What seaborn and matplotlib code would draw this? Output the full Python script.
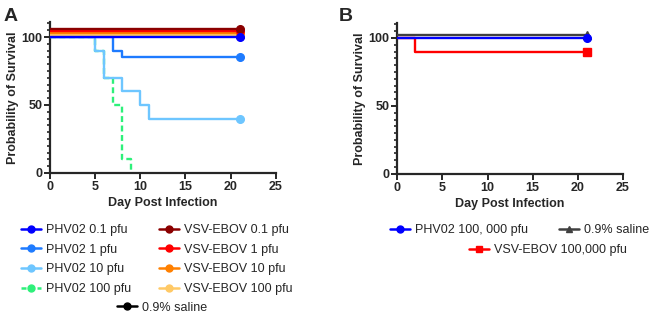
import matplotlib
matplotlib.use("Agg")
import matplotlib.pyplot as plt
import matplotlib.transforms as mtransforms
from matplotlib.lines import Line2D
import seaborn as sns

# panel A data (day, % survival)
phv_01_days = [0, 21]
phv_01_surv = [100, 100]
phv_1_days = [0, 7, 8, 21]
phv_1_surv = [100, 90, 85, 85]
phv_10_days = [0, 5, 6, 8, 10, 11, 21]
phv_10_surv = [100, 90, 70, 60, 50, 40, 40]
phv_100_days = [0, 5, 6, 7, 8, 9]
phv_100_surv = [100, 90, 70, 50, 10, 0]
vsv_days = [0, 21]
vsv_01_surv = [100, 100]
vsv_1_surv = [100, 100]
vsv_10_surv = [100, 100]
vsv_100_surv = [100, 100]
saline_a_days = [0, 21]
saline_a_surv = [100, 100]

# panel B data
phv_hi_days = [0, 21]
phv_hi_surv = [100, 100]
vsv_hi_days = [0, 2, 21]
vsv_hi_surv = [100, 90, 90]
saline_b_days = [0, 21]
saline_b_surv = [100, 100]

sns.set_style("ticks")
plt.rcParams['font.family'] = ['Liberation Sans', 'DejaVu Sans']

fig = plt.figure(figsize=(6.49, 3.15), dpi=100)
axA = fig.add_axes([0.077, 0.451, 0.348, 0.479])
axB = fig.add_axes([0.612, 0.448, 0.348, 0.479])


def curve(ax, days, surv, color, marker, lift=0, ls="-", end=True, z=2):
    # lift shifts the line up a few points so stacked 100% curves stay visible
    tr = mtransforms.offset_copy(ax.transData, fig=fig, y=lift, units="points")
    sns.lineplot(x=days, y=surv, ax=ax, color=color, drawstyle="steps-post",
                 linewidth=1.7, linestyle=ls, transform=tr, zorder=z)
    if end:
        ax.plot(days[-1], surv[-1], marker=marker, color=color, markersize=5.5,
                transform=tr, zorder=z, clip_on=False)


# panel A
curve(axA, phv_100_days, phv_100_surv, "#2ef07a", "o", ls=(0, (2.5, 1.5)), end=False, z=2)
curve(axA, phv_10_days, phv_10_surv, "#6ec6ff", "o", z=3)
curve(axA, phv_1_days, phv_1_surv, "#1e7bff", "o", z=4)
curve(axA, saline_a_days, saline_a_surv, "black", "o", lift=0.7, z=4)
curve(axA, vsv_days, vsv_100_surv, "#ffc966", "o", lift=1.5, z=5)
curve(axA, vsv_days, vsv_10_surv, "#ff8000", "o", lift=2.9, z=5)
curve(axA, vsv_days, vsv_1_surv, "#ff0000", "o", lift=4.3, z=5)
curve(axA, vsv_days, vsv_01_surv, "#8b0000", "o", lift=5.8, z=5)
curve(axA, phv_01_days, phv_01_surv, "#0000ff", "o", z=6)

# panel B
curve(axB, saline_b_days, saline_b_surv, "#404040", "^", lift=1.8, z=3)
curve(axB, vsv_hi_days, vsv_hi_surv, "#ff0000", "s", z=4)
curve(axB, phv_hi_days, phv_hi_surv, "#0000ff", "o", z=5)

for ax in (axA, axB):
    ax.set_xlim(0, 25)
    ax.set_ylim(0, 111)
    ax.set_xticks([0, 5, 10, 15, 20, 25])
    ax.set_yticks([0, 50, 100])
    ax.set_yticks(range(0, 111, 5), minor=True)
    for s in ("top", "right"):
        ax.spines[s].set_visible(False)
    for s in ("left", "bottom"):
        ax.spines[s].set_linewidth(1.6)
    ax.tick_params(which="major", length=4, width=1.4, labelsize=9, pad=1.5)
    ax.tick_params(which="minor", length=2.5, width=1.2)
    for lab in ax.get_xticklabels() + ax.get_yticklabels():
        lab.set_fontweight("bold")
    ax.set_xlabel("Day Post Infection", fontsize=9, fontweight="bold", labelpad=3)
    ax.set_ylabel("Probability of Survival", fontsize=9, fontweight="bold", labelpad=2)

fig.text(0.005, 0.975, "A", fontsize=14, fontweight="bold", va="top")
fig.text(0.522, 0.975, "B", fontsize=14, fontweight="bold", va="top")


def handle(color, marker="o", ls="-"):
    return Line2D([], [], color=color, marker=marker, markersize=5,
                  linewidth=1.8, linestyle=ls)


leg_kw = dict(frameon=False, fontsize=9, handlelength=1.6, handletextpad=0.4,
              borderaxespad=0, labelspacing=0.62, columnspacing=2.2)

names_a = ["PHV02 0.1 pfu", "PHV02 1 pfu", "PHV02 10 pfu", "PHV02 100 pfu",
           "VSV-EBOV 0.1 pfu", "VSV-EBOV 1 pfu", "VSV-EBOV 10 pfu", "VSV-EBOV 100 pfu"]
handles_a = [handle("#0000ff"), handle("#1e7bff"), handle("#6ec6ff"),
             handle("#2ef07a", ls=(0, (2, 1.2))),
             handle("#8b0000"), handle("#ff0000"), handle("#ff8000"), handle("#ffc966")]
fig.legend(handles_a, names_a, ncol=2, loc="upper left",
           bbox_to_anchor=(0.025, 0.305), **leg_kw)
fig.legend([handle("black")], ["0.9% saline"], loc="upper left",
           bbox_to_anchor=(0.172, 0.058), **leg_kw)

fig.legend([handle("#0000ff"), handle("#404040", "^")],
           ["PHV02 100, 000 pfu", "0.9% saline"], ncol=2, loc="upper left",
           bbox_to_anchor=(0.593, 0.305), **dict(leg_kw, columnspacing=2.5))
fig.legend([handle("#ff0000", "s")], ["VSV-EBOV 100,000 pfu"], loc="upper left",
           bbox_to_anchor=(0.715, 0.24), **leg_kw)

fig.savefig("out.png", dpi=100)
